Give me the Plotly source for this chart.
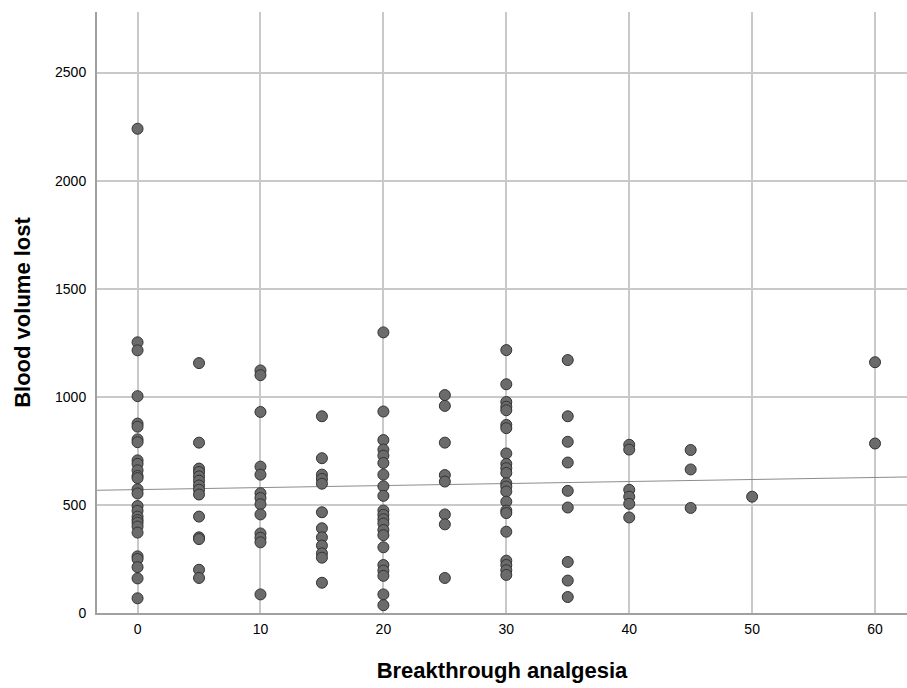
import numpy as np
import plotly.graph_objects as go

# Breakthrough analgesia groups and blood volume lost values
groups = {
    0: [2240, 1252, 1215, 1003, 876, 862, 803, 790, 706, 690, 660, 634, 624, 572, 553, 495, 473, 446, 430, 418, 400, 372, 262, 250, 212, 160, 68],
    5: [1156, 788, 668, 652, 632, 612, 590, 570, 548, 446, 350, 342, 200, 162],
    10: [1122, 1100, 930, 677, 640, 554, 532, 503, 456, 368, 348, 327, 86],
    15: [910, 716, 640, 620, 598, 466, 392, 350, 312, 276, 256, 140],
    20: [1298, 932, 800, 756, 728, 694, 640, 586, 542, 474, 454, 434, 414, 384, 360, 304, 222, 196, 172, 86, 36],
    25: [1008, 958, 788, 638, 608, 456, 410, 162],
    30: [1216, 1058, 976, 954, 938, 870, 855, 738, 690, 670, 648, 600, 585, 562, 515, 474, 462, 376, 242, 222, 198, 176],
    35: [1170, 910, 792, 696, 565, 488, 236, 150, 74],
    40: [778, 756, 570, 538, 505, 442],
    45: [754, 664, 486],
    50: [538],
    60: [1160, 784],
}

x_vals = []
y_vals = []
for g, vals in groups.items():
    x_vals += [g] * len(vals)
    y_vals += vals
x_vals = np.array(x_vals, dtype=float)
y_vals = np.array(y_vals, dtype=float)

x_range = [-3.3, 62.6]
y_range = [0, 2780]
x_ticks = [0, 10, 20, 30, 40, 50, 60]
y_ticks = [0, 500, 1000, 1500, 2000, 2500]

slope, intercept = np.polyfit(x_vals, y_vals, 1)
fit_x = np.array(x_range)
fit_y = intercept + slope * fit_x

fig = go.Figure()
fig.add_trace(go.Scatter(
    x=fit_x, y=fit_y, mode="lines",
    line=dict(color="#8c8c8c", width=1), hoverinfo="skip", showlegend=False,
))
fig.add_trace(go.Scatter(
    x=x_vals, y=y_vals, mode="markers",
    marker=dict(size=11, color="#6b6b6b", line=dict(color="#333333", width=1)),
    showlegend=False,
))

fig.update_layout(
    width=907, height=688,
    margin=dict(l=97, r=0, t=12, b=75),
    paper_bgcolor="white", plot_bgcolor="white",
    font=dict(family="Liberation Sans, Arial, sans-serif", color="#000000"),
    xaxis=dict(
        range=x_range, tickvals=x_ticks, ticktext=[str(t) for t in x_ticks],
        showgrid=True, gridcolor="#c9c9c9", gridwidth=1.5,
        showline=True, linecolor="#a0a0a0", linewidth=2,
        zeroline=False, ticks="", ticklabelstandoff=2,
        tickfont=dict(size=14),
        title=dict(text="<b>Breakthrough analgesia</b>", font=dict(size=22), standoff=27),
    ),
    yaxis=dict(
        range=y_range, tickvals=y_ticks, ticktext=[str(t) for t in y_ticks],
        showgrid=True, gridcolor="#c9c9c9", gridwidth=1.5,
        showline=True, linecolor="#a0a0a0", linewidth=2,
        zeroline=False, ticks="", ticklabelstandoff=6,
        tickfont=dict(size=14),
        title=dict(text="<b>Blood volume lost</b>", font=dict(size=22), standoff=18),
    ),
)

fig.write_html("out.html")
